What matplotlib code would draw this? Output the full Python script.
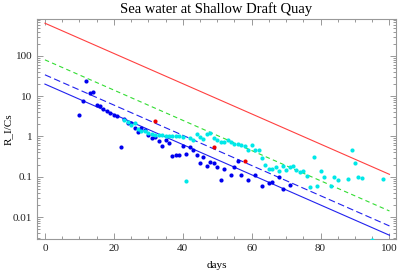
import numpy as np
import matplotlib.pyplot as plt
from matplotlib.ticker import FixedLocator, NullFormatter, FixedFormatter

# blue points (days, R_I/Cs)
blue_x = [10, 11, 12, 13, 14, 15, 16, 17, 18, 19, 20, 21, 22, 23, 24, 25, 26, 27, 28, 29,
          30, 31, 32, 33, 34, 35, 36, 37, 38, 39, 40, 41, 42, 43, 44, 45, 46, 47, 48, 49,
          50, 51, 52, 54, 55, 56, 57, 59, 61, 63, 65, 66, 68, 69, 71]
blue_y = [3.4, 7.8, 24, 11.8, 12.8, 6.2, 5.8, 4.8, 4.2, 3.8, 3.5, 3.2, 0.55, 2.7, 2.1, 2.1, 1.6, 1.3, 1.6, 1.45,
          1.1, 0.9, 0.95, 0.76, 0.59, 0.82, 0.67, 0.33, 0.34, 0.35, 0.57, 0.37, 0.55, 0.45, 0.34, 0.22, 0.31, 0.18, 0.23, 0.22,
          0.17, 0.084, 0.16, 0.11, 0.17, 0.24, 0.11, 0.085, 0.11, 0.058, 0.07, 0.075, 0.1, 0.051, 0.062]

# cyan points
cyan_x = [23, 24, 25, 26, 27, 28, 29, 30, 31, 32, 33, 34, 35, 36, 37, 38, 39, 40, 41, 42,
          43, 44, 45, 46, 47, 48, 49, 50, 51, 52, 53, 54, 55, 56, 57, 58, 59, 60, 61, 62,
          63, 64, 65, 66, 67, 68, 69, 70, 71, 72, 73, 74, 75, 76, 77, 78, 79, 80, 81, 83,
          84, 85, 88, 89, 90, 91, 92, 93, 95, 98]
cyan_y = [2.5, 2.35, 1.95, 2.1, 1.5, 1.4, 1.4, 1.25, 1.15, 1.1, 1.06, 1.1, 1.0, 1.0, 1.0, 1.0, 1.0, 0.95, 0.077, 0.91,
          0.83, 1.14, 0.96, 0.88, 1.14, 1.2, 0.94, 0.83, 0.72, 0.72, 0.8, 0.72, 0.66, 0.66, 0.61, 0.58, 0.46, 0.6, 0.46, 0.45,
          0.3, 0.2, 0.16, 0.16, 0.17, 0.14, 0.19, 0.15, 0.17, 0.18, 0.145, 0.13, 0.135, 0.105, 0.055, 0.31, 0.058, 0.135, 0.1, 0.06,
          0.1, 0.085, 0.087, 0.45, 0.22, 0.1, 0.092, 0.0022, 0.0027, 0.09]

# red points
red_x = [32, 49, 58]
red_y = [2.4, 0.55, 0.24]

# decay lines: A * exp(-ln2/8.02 * t)
half_life = 8.02
line_A = [650, 80, 34, 20]
line_colors = ['#ff4040', '#33dd33', '#2222ee', '#2222ee']
line_styles = ['-', (0, (4, 3)), (0, (6, 3)), '-']

plt.rcParams['font.family'] = ['Liberation Serif', 'DejaVu Serif']

fig = plt.figure(figsize=(4.0, 2.71), dpi=100)
ax = fig.add_axes([0.0925, 0.118, 0.8975, 0.812])

t = np.linspace(0, 100, 200)
for A, c, ls in zip(line_A, line_colors, line_styles):
    ax.plot(t, A * np.exp(-np.log(2) / half_life * t), color=c, ls=ls, lw=0.8)

ax.scatter(blue_x, blue_y, s=9, color='#0000ee', lw=0, zorder=3)
ax.scatter(cyan_x, cyan_y, s=9, color='#00e8e8', lw=0, zorder=3)
ax.scatter(red_x, red_y, s=9, color='#ee0000', lw=0, zorder=4)

ax.set_yscale('log')
ax.set_xlim(-2.3, 101.9)
ax.set_ylim(0.00284, 828)

ax.set_xticks([0, 20, 40, 60, 80, 100])
ax.xaxis.set_minor_locator(FixedLocator(np.arange(0, 101, 5)))
ax.yaxis.set_major_locator(FixedLocator([0.01, 0.1, 1, 10, 100]))
ax.yaxis.set_major_formatter(FixedFormatter(['0.01', '0.1', '1', '10', '100']))
minor = [m * 10.0 ** e for e in range(-3, 3) for m in range(2, 10)]
ax.yaxis.set_minor_locator(FixedLocator(minor))
ax.yaxis.set_minor_formatter(NullFormatter())

ax.tick_params(which='both', direction='in', top=True, right=True, colors='#888888',
               labelcolor='#222222', labelsize=8, width=0.6)
ax.tick_params(which='major', length=4)
ax.tick_params(which='minor', length=2)
for s in ax.spines.values():
    s.set_color('#999999')
    s.set_linewidth(0.8)

ax.set_title('Sea water at Shallow Draft Quay', fontsize=10.5, pad=4)
ax.set_xlabel('days', fontsize=8, labelpad=6)
ax.set_ylabel('R_I/Cs', fontsize=8)
ax.yaxis.set_label_coords(-0.066, 0.5)

fig.savefig('out.png', dpi=100)
